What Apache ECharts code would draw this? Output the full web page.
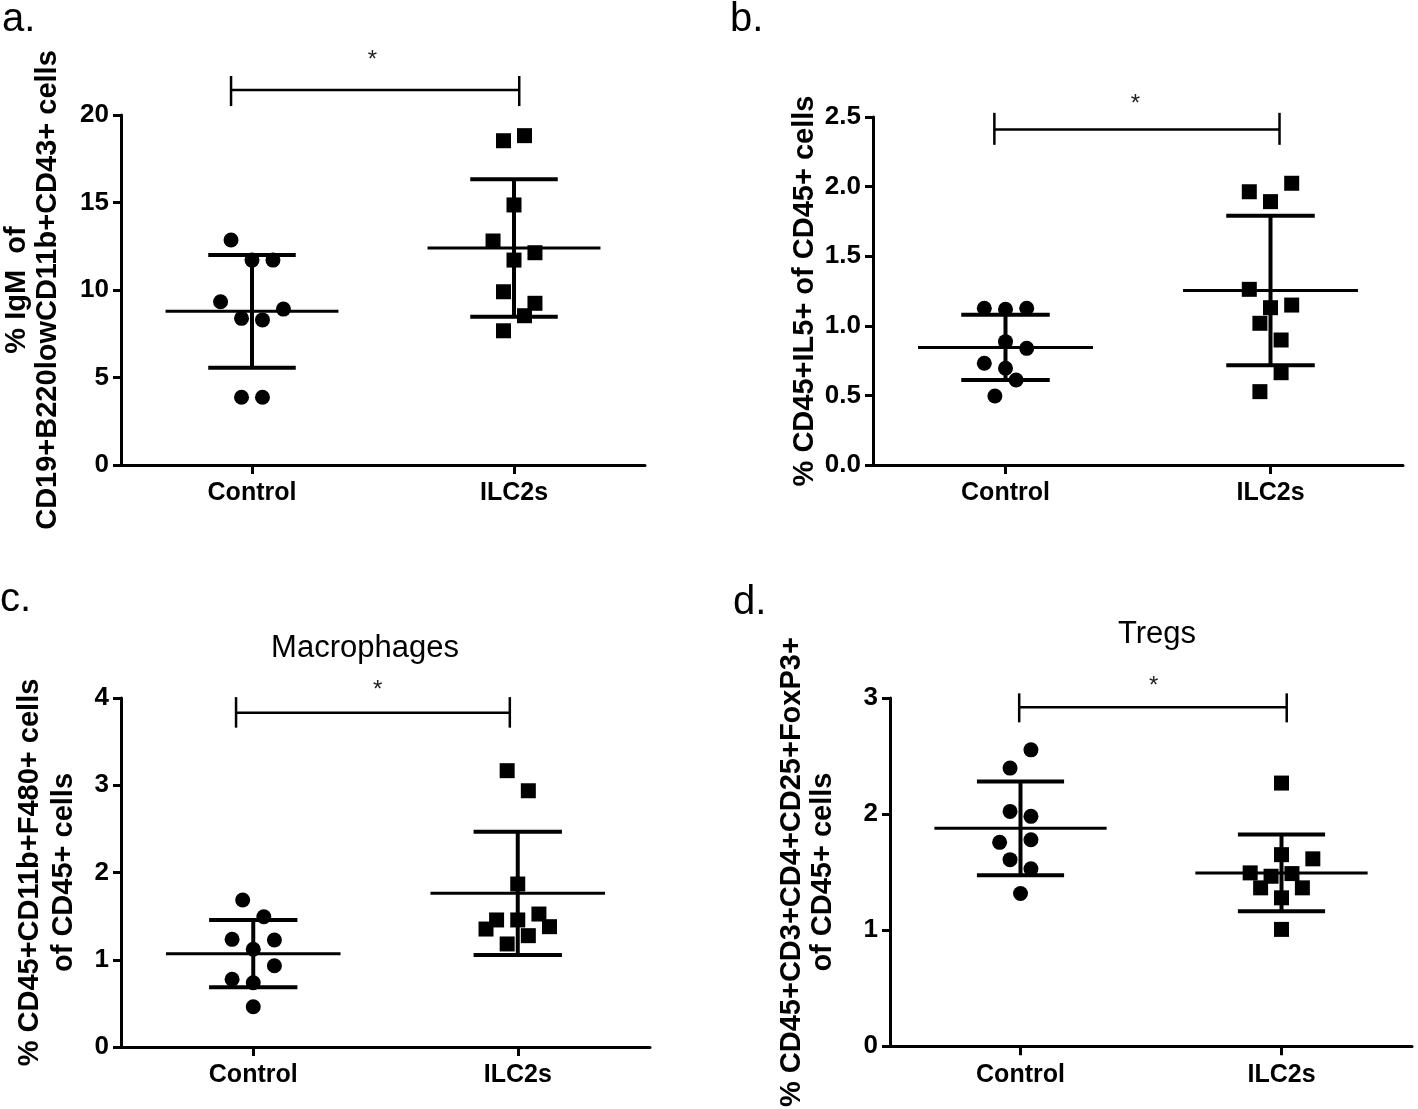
<!DOCTYPE html>
<html>
<head>
<meta charset="utf-8">
<script src="https://cdn.jsdelivr.net/npm/echarts@6/dist/echarts.min.js"></script>
<style>
  html, body { margin: 0; padding: 0; background: #fff; }
  #main { width: 1418px; height: 1109px; }
</style>
</head>
<body>
<div id="main"></div>
<script>
;(function(window){

  // groups on the x axis (x = 1, 2)
  var groups = ['Control', 'ILC2s'];

  // a. IgM
  var igmTicks = [0, 5, 10, 15, 20];
  var igmControl = [12.86, 11.71, 11.71, 9.33, 8.91, 8.38, 8.29, 3.87, 3.87];
  var igmControlJitter = [-0.08, 0, 0.08, -0.12, 0.12, -0.04, 0.04, -0.04, 0.04];
  var igmIlc2 = [18.53, 18.82, 14.86, 12.8, 12.13, 11.71, 9.9, 9.24, 8.53, 7.67];
  var igmIlc2Jitter = [-0.04, 0.04, 0, -0.08, 0.08, 0, -0.04, 0.08, 0.04, -0.04];
  var igmMean = [8.78, 12.40];
  var igmSd = [3.22, 3.93];
  var igmBracket = [0.92, 2.02, 21.43, 22.23, 20.51, 1.46, 23.1];

  // b. IL5
  var il5Ticks = [0, 0.5, 1.0, 1.5, 2.0, 2.5];
  var il5Control = [1.126, 1.119, 1.126, 0.886, 0.838, 0.731, 0.695, 0.611, 0.496];
  var il5ControlJitter = [-0.08, 0, 0.08, 0, 0.08, -0.08, 0, 0.04, -0.04];
  var il5Ilc2 = [1.963, 1.892, 2.024, 1.262, 1.130, 1.149, 1.018, 0.898, 0.663, 0.527];
  var il5Ilc2Jitter = [-0.08, 0, 0.08, -0.08, 0, 0.08, -0.04, 0.04, 0.04, -0.04];
  var il5Mean = [0.845, 1.253];
  var il5Sd = [0.235, 0.537];
  var il5Bracket = [0.958, 2.034, 2.41, 2.53, 2.30, 1.49, 2.59];

  // c. Macrophages
  var macTicks = [0, 1, 2, 3, 4];
  var macControl = [1.685, 1.493, 1.234, 1.226, 1.120, 0.932, 0.776, 0.737, 0.462];
  var macControlJitter = [-0.04, 0.04, -0.08, 0.08, 0, 0.08, -0.08, 0, 0];
  var macIlc2 = [3.167, 2.937, 1.868, 1.456, 1.456, 1.524, 1.352, 1.379, 1.276, 1.181];
  var macIlc2Jitter = [-0.04, 0.04, 0, -0.08, 0, 0.08, -0.12, 0.12, 0.04, -0.04];
  var macMean = [1.07, 1.761];
  var macSd = [0.386, 0.707];
  var macBracket = [0.935, 1.97, 3.83, 4.01, 3.66, 1.47, 4.09];

  // d. Tregs
  var tregTicks = [0, 1, 2, 3];
  var tregControl = [2.553, 2.396, 2.023, 1.980, 1.756, 1.779, 1.607, 1.528, 1.315];
  var tregControlJitter = [0.04, -0.04, -0.04, 0.04, -0.08, 0.04, -0.04, 0.04, 0];
  var tregIlc2 = [2.267, 1.65, 1.614, 1.493, 1.464, 1.487, 1.364, 1.364, 1.278, 1.006];
  var tregIlc2Jitter = [0, 0, 0.12, -0.12, -0.04, 0.04, -0.08, 0.08, 0, 0];
  var tregMean = [1.877, 1.493];
  var tregSd = [0.404, 0.33];
  var tregBracket = [0.995, 2.02, 2.92, 3.04, 2.79, 1.51, 3.10];

  var FONT = "'Liberation Sans', Arial, sans-serif";

  var panels = [
    { grid: {left: 119, top: 115, width: 526, height: 350},
      ticks: igmTicks, digits: 0,
      name: '% IgM  of\nCD19+B220lowCD11b+CD43+ cells', nameGap: 58, lineHeight: 31,
      control: igmControl, cj: igmControlJitter, ilc: igmIlc2, ij: igmIlc2Jitter,
      mean: igmMean, sd: igmSd, bracket: igmBracket },
    { grid: {left: 873, top: 117, width: 530, height: 348},
      ticks: il5Ticks, digits: 1,
      name: '% CD45+IL5+ of CD45+ cells', nameGap: 50, lineHeight: 31,
      control: il5Control, cj: il5ControlJitter, ilc: il5Ilc2, ij: il5Ilc2Jitter,
      mean: il5Mean, sd: il5Sd, bracket: il5Bracket },
    { grid: {left: 121, top: 698, width: 529, height: 349},
      ticks: macTicks, digits: 0,
      name: '% CD45+CD11b+F480+ cells\nof CD45+ cells', nameGap: 40, lineHeight: 34,
      control: macControl, cj: macControlJitter, ilc: macIlc2, ij: macIlc2Jitter,
      mean: macMean, sd: macSd, bracket: macBracket },
    { grid: {left: 890, top: 698, width: 522, height: 349},
      ticks: tregTicks, digits: 0,
      name: '% CD45+CD3+CD4+CD25+FoxP3+\nof CD45+ cells', nameGap: 52, lineHeight: 31,
      control: tregControl, cj: tregControlJitter, ilc: tregIlc2, ij: tregIlc2Jitter,
      mean: tregMean, sd: tregSd, bracket: tregBracket }
  ];

  var myChart = echarts.init(document.getElementById('main'));

  function errorBars(params, api) {
    var x = api.value(0), m = api.value(1), s = api.value(2);
    var c = api.coord([x, m]), hi = api.coord([x, m + s]), lo = api.coord([x, m - s]);
    var unit = api.size([1, 0])[0];
    var thin = {stroke: '#000', lineWidth: 3};
    var thick = {stroke: '#000', lineWidth: 4};
    return {type: 'group', children: [
      {type: 'line', shape: {x1: c[0] - 0.33 * unit, y1: c[1], x2: c[0] + 0.33 * unit, y2: c[1]}, style: thin},
      {type: 'line', shape: {x1: hi[0], y1: hi[1], x2: lo[0], y2: lo[1]}, style: thick},
      {type: 'line', shape: {x1: hi[0] - 0.167 * unit, y1: hi[1], x2: hi[0] + 0.167 * unit, y2: hi[1]}, style: thick},
      {type: 'line', shape: {x1: lo[0] - 0.167 * unit, y1: lo[1], x2: lo[0] + 0.167 * unit, y2: lo[1]}, style: thick}
    ]};
  }

  function bracket(params, api) {
    var l = api.coord([api.value(0), api.value(2)]);
    var r = api.coord([api.value(1), api.value(2)]);
    var top = api.coord([api.value(0), api.value(3)])[1];
    var bot = api.coord([api.value(0), api.value(4)])[1];
    var star = api.coord([api.value(5), api.value(6)]);
    var st = {stroke: '#000', lineWidth: 2.5};
    return {type: 'group', children: [
      {type: 'line', shape: {x1: l[0], y1: l[1], x2: r[0], y2: r[1]}, style: st},
      {type: 'line', shape: {x1: l[0], y1: top, x2: l[0], y2: bot}, style: st},
      {type: 'line', shape: {x1: r[0], y1: top, x2: r[0], y2: bot}, style: st},
      {type: 'text', x: star[0], y: star[1], style: {text: '*', fill: '#222', font: '24px ' + FONT, align: 'center', verticalAlign: 'middle'}}
    ]};
  }

  var option = {
    animation: false,
    backgroundColor: '#fff',
    grid: [], xAxis: [], yAxis: [], series: [],
    graphic: [
      {type: 'text', left: 2, top: 0, style: {text: 'a.', font: '40px ' + FONT, fill: '#000'}},
      {type: 'text', left: 730, top: 0, style: {text: 'b.', font: '40px ' + FONT, fill: '#000'}},
      {type: 'text', left: 0, top: 580, style: {text: 'c.', font: '40px ' + FONT, fill: '#000'}},
      {type: 'text', left: 733, top: 583, style: {text: 'd.', font: '40px ' + FONT, fill: '#000'}},
      {type: 'text', x: 365, y: 648, style: {text: 'Macrophages', font: '31px ' + FONT, fill: '#000', align: 'center', verticalAlign: 'middle'}},
      {type: 'text', x: 1157, y: 634, style: {text: 'Tregs', font: '31px ' + FONT, fill: '#000', align: 'center', verticalAlign: 'middle'}}
    ]
  };

  panels.forEach(function (p, i) {
    option.grid.push(p.grid);
    option.xAxis.push({
      type: 'value', gridIndex: i, min: 0.5, max: 2.5,
      axisLine: {show: true, onZero: false, lineStyle: {color: '#000', width: 3}},
      axisTick: {show: true, customValues: [1, 2], length: 9, lineStyle: {color: '#000', width: 3}},
      axisLabel: {customValues: [1, 2], margin: 16, color: '#000', fontFamily: FONT, fontWeight: 'bold', fontSize: 25,
        formatter: function (v) { return groups[Math.round(v) - 1]; }},
      splitLine: {show: false}
    });
    option.yAxis.push({
      type: 'value', gridIndex: i,
      min: p.ticks[0], max: p.ticks[p.ticks.length - 1], interval: p.ticks[1] - p.ticks[0],
      axisLine: {show: true, onZero: false, lineStyle: {color: '#000', width: 3}},
      axisTick: {show: true, length: 8, lineStyle: {color: '#000', width: 3}},
      axisLabel: {margin: 12, color: '#000', fontFamily: FONT, fontWeight: 'bold', fontSize: 26,
        formatter: (function (d) { return function (v) { return v.toFixed(d); }; })(p.digits)},
      splitLine: {show: false},
      name: p.name, nameLocation: 'middle', nameRotate: 90, nameGap: p.nameGap,
      nameTextStyle: {color: '#000', fontFamily: FONT, fontWeight: 'bold', fontSize: 29, lineHeight: p.lineHeight}
    });
    option.series.push({
      type: 'custom', xAxisIndex: i, yAxisIndex: i, renderItem: errorBars, clip: false,
      data: [[1, p.mean[0], p.sd[0]], [2, p.mean[1], p.sd[1]]], silent: true
    });
    option.series.push({
      type: 'scatter', xAxisIndex: i, yAxisIndex: i, symbol: 'circle', symbolSize: 15,
      itemStyle: {color: '#000', opacity: 1},
      data: p.control.map(function (v, k) { return [1 + p.cj[k], v]; })
    });
    option.series.push({
      type: 'scatter', xAxisIndex: i, yAxisIndex: i, symbol: 'rect', symbolSize: 15,
      itemStyle: {color: '#000', opacity: 1},
      data: p.ilc.map(function (v, k) { return [2 + p.ij[k], v]; })
    });
    option.series.push({
      type: 'custom', xAxisIndex: i, yAxisIndex: i, renderItem: bracket, clip: false, silent: true,
      encode: {x: [0, 1], y: [2]},
      data: [p.bracket]
    });
  });

  myChart.setOption(option);
})(window)
</script>
</body>
</html>
